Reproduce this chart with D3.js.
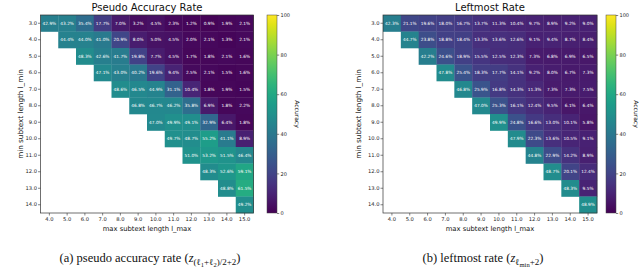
<!DOCTYPE html>
<html><head><meta charset="utf-8">
<script src="https://cdn.jsdelivr.net/npm/d3@7"></script>
<style>
html,body{margin:0;padding:0;background:#fff;}
svg{display:block;}
</style></head>
<body>
<svg id="c" width="640" height="274"></svg>
<script>
const lMin = [3,4,5,6,7,8,9,10,11,12,13,14];
const lMax = [4,5,6,7,8,9,10,11,12,13,14,15];
const cbarTicks = [0,20,40,60,80,100];
// row i (l_min = lMin[i]) starts at column lMax[i]
const pseudoRate = [
  [42.9,43.2,35.4,17.7,7.0,3.2,4.5,2.3,1.2,0.9,1.9,2.1],
  [44.4,44.0,41.0,20.9,8.0,5.0,4.5,2.0,2.1,1.3,2.1],
  [48.3,42.6,41.7,19.8,7.7,4.5,1.7,1.8,2.1,1.6],
  [47.1,43.0,40.2,19.6,9.4,2.5,2.1,1.5,1.6],
  [48.6,46.5,44.9,31.1,10.4,1.8,1.9,1.5],
  [46.8,46.7,46.2,35.8,6.9,1.8,2.2],
  [47.0,49.9,49.1,32.9,6.4,1.8],
  [49.7,48.7,55.2,41.1,8.9],
  [51.0,53.2,51.5,46.4],
  [48.3,52.6,59.1],
  [48.8,61.5],
  [49.2]
];
const leftmostRate = [
  [42.3,21.1,19.6,18.0,16.7,13.7,11.3,10.4,9.7,8.9,9.2,9.0],
  [44.7,23.8,18.8,18.4,13.3,13.6,12.6,9.1,9.4,8.7,8.4],
  [42.2,24.6,18.9,15.5,12.5,12.3,7.3,6.8,6.9,6.5],
  [47.8,25.4,18.3,17.7,14.1,9.2,8.0,6.7,7.3],
  [46.8,25.9,16.8,14.3,11.3,7.3,7.3,7.5],
  [47.0,25.3,16.1,12.4,9.5,6.1,6.4],
  [49.9,24.8,16.6,13.0,10.1,5.8],
  [47.9,22.3,13.6,10.5,9.1],
  [44.8,22.9,14.2,8.9],
  [48.7,20.1,12.4],
  [48.3,9.5],
  [48.9]
];

const svg = d3.select('#c');
const color = d3.scaleSequential(d3.interpolateViridis).domain([0,100]);

const defs = svg.append('defs');
const grad = defs.append('linearGradient').attr('id','vir').attr('x1',0).attr('y1',1).attr('x2',0).attr('y2',0);
d3.range(0,1.0001,0.05).forEach(t=>grad.append('stop').attr('offset',t).attr('stop-color',d3.interpolateViridis(t)));

function heatmap(opt){
  const g = svg.append('g');
  const x = d3.scaleBand().domain(lMax).range([opt.x0,opt.x1]);
  const y = d3.scaleBand().domain(lMin).range([opt.y0,opt.y1]);
  const cells = [];
  opt.data.forEach((row,i)=>row.forEach((v,j)=>cells.push({r:lMin[i],c:lMax[i+j],v})));
  g.selectAll('rect.cell').data(cells).join('rect')
    .attr('x',d=>x(d.c)).attr('y',d=>y(d.r))
    .attr('width',x.bandwidth()+0.3).attr('height',y.bandwidth()+0.3)
    .attr('fill',d=>color(d.v));
  g.selectAll('text.cell').data(cells).join('text')
    .attr('x',d=>x(d.c)+x.bandwidth()/2).attr('y',d=>y(d.r)+y.bandwidth()/2)
    .attr('text-anchor','middle').attr('dominant-baseline','central')
    .attr('fill','#fff').attr('font-family','DejaVu Sans').attr('font-size',4.3)
    .text(d=>d.v.toFixed(1)+'%');
  g.append('rect').attr('x',opt.x0).attr('y',opt.y0).attr('width',opt.x1-opt.x0).attr('height',opt.y1-opt.y0)
    .attr('fill','none').attr('stroke','#333').attr('stroke-width',0.7);
  const ax = g.append('g').attr('transform',`translate(0,${opt.y1})`)
    .call(d3.axisBottom(x).tickSize(2.5).tickSizeOuter(0).tickFormat(d=>d.toFixed(1)));
  const ay = g.append('g').attr('transform',`translate(${opt.x0},0)`)
    .call(d3.axisLeft(y).tickSize(2.5).tickSizeOuter(0).tickFormat(d=>d.toFixed(1)));
  [ax,ay].forEach(a=>{a.select('.domain').remove();
    a.selectAll('text').attr('font-family','DejaVu Sans').attr('font-size',5.2).attr('fill','#222');
    a.selectAll('line').attr('stroke','#333').attr('stroke-width',0.6);});
  ax.selectAll('text').attr('dy','0.9em').attr('y',3);
  ay.selectAll('text').attr('x',-3.5);
  g.append('text').attr('x',(opt.x0+opt.x1)/2).attr('y',11).attr('text-anchor','middle')
    .attr('font-family','DejaVu Sans').attr('font-size',10).attr('fill','#111').text(opt.title);
  g.append('text').attr('x',(opt.x0+opt.x1)/2).attr('y',opt.y1+18).attr('text-anchor','middle')
    .attr('font-family','DejaVu Sans').attr('font-size',6.8).attr('fill','#111').text('max subtext length l_max');
  g.append('text').attr('transform',`translate(${opt.ylabX},${(opt.y0+opt.y1)/2}) rotate(-90)`)
    .attr('text-anchor','middle').attr('font-family','DejaVu Sans').attr('font-size',7.2).attr('fill','#111')
    .text('min subtext length l_min');
  // colorbar
  const cb = svg.append('g');
  cb.append('rect').attr('x',opt.cbx).attr('y',opt.y0).attr('width',10).attr('height',opt.y1-opt.y0)
    .attr('fill','url(#vir)').attr('stroke','#444').attr('stroke-width',0.5);
  const cs = d3.scaleLinear().domain([0,100]).range([opt.y1,opt.y0]);
  const ca = cb.append('g').attr('transform',`translate(${opt.cbx+10},0)`)
    .call(d3.axisRight(cs).tickValues(cbarTicks).tickSize(2.2).tickSizeOuter(0));
  ca.select('.domain').remove();
  ca.selectAll('text').attr('font-family','DejaVu Sans').attr('font-size',5).attr('fill','#222').attr('x',3.5);
  ca.selectAll('line').attr('stroke','#333').attr('stroke-width',0.6);
  cb.append('text').attr('transform',`translate(${opt.cbx+28},${(opt.y0+opt.y1)/2}) rotate(90)`)
    .attr('text-anchor','middle').attr('font-family','DejaVu Sans').attr('font-size',6).attr('fill','#111').text('Accuracy');
}

heatmap({data:pseudoRate,x0:40.5,x1:253.5,y0:15,y1:213,title:'Pseudo Accuracy Rate',ylabX:23,cbx:267});
heatmap({data:leftmostRate,x0:383,x1:597,y0:15,y1:213,title:'Leftmost Rate',ylabX:361,cbx:606});

function caption(cx, parts){
  const t = svg.append('text').attr('x',cx).attr('y',262).attr('text-anchor','middle')
    .attr('font-family','Liberation Serif').attr('font-size',12.5).attr('fill','#111');
  parts.forEach(p=>{
    const s = t.append('tspan').text(p.t);
    if(p.it) s.attr('font-style','italic');
    if(p.fs) s.attr('font-size',p.fs);
    if(p.dy) s.attr('dy',p.dy);
  });
}
caption(150,[
  {t:'(a) pseudo accuracy rate ('},
  {t:'z',it:1},
  {t:'(ℓ',fs:9,dy:3},
  {t:'1',fs:6.5,dy:1.5},
  {t:'+ℓ',fs:9,dy:-1.5},
  {t:'2',fs:6.5,dy:1.5},
  {t:')/2+2',fs:9,dy:-1.5},
  {t:')',dy:-3}
]);
caption(483,[
  {t:'(b) leftmost rate ('},
  {t:'z',it:1},
  {t:'ℓ',fs:9,dy:3},
  {t:'min',fs:6.5,dy:1.5},
  {t:'+2',fs:9,dy:-1.5},
  {t:')',dy:-3}
]);
</script>
</body></html>
